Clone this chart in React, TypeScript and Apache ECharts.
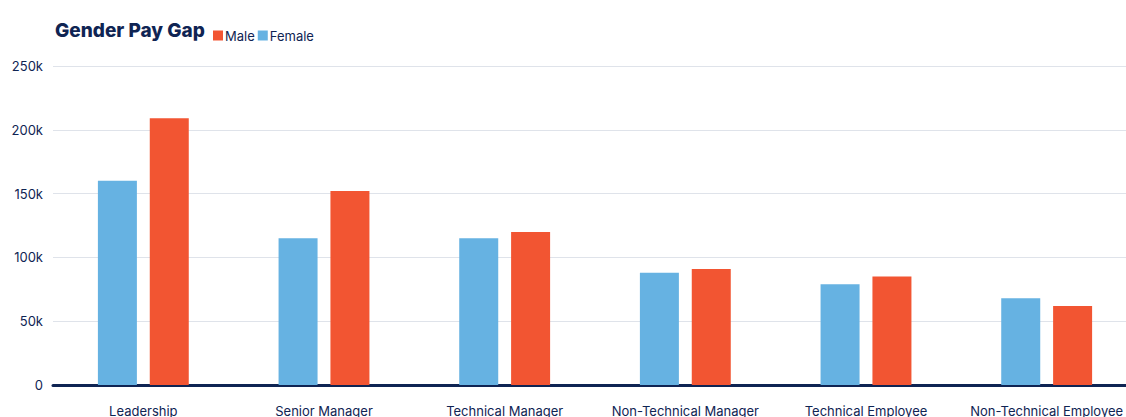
import React, { useEffect, useRef } from "react";
import * as echarts from "echarts";

const categories = [
  "Leadership",
  "Senior Manager",
  "Technical Manager",
  "Non-Technical Manager",
  "Technical Employee",
  "Non-Technical Employee",
];
const femaleValues = [160000, 115000, 115000, 88000, 79000, 68000];
const maleValues = [209000, 152000, 120000, 91000, 85000, 62000];
const yTicks = [0, 50000, 100000, 150000, 200000, 250000];

const NAVY = "#0f2453";
const BLUE = "#66b2e2";
const ORANGE = "#f25532";
const FONT = "Inter, 'Liberation Sans', sans-serif";

export default function App() {
  const ref = useRef<HTMLDivElement>(null);
  useEffect(() => {
    if (!ref.current) return;
    const chart = echarts.init(ref.current, undefined, { renderer: "svg" });
    chart.setOption({
      animation: false,
      title: {
        text: "Gender Pay Gap",
        left: 50,
        top: 16,
        textStyle: {
          fontFamily: FONT,
          fontWeight: 800,
          fontSize: 19,
          color: NAVY,
        },
      },
      legend: {
        left: 208,
        top: 24,
        data: ["Male", "Female"],
        icon: "rect",
        itemWidth: 10,
        itemHeight: 10,
        itemGap: 3,
        textStyle: { fontFamily: FONT, fontSize: 13, color: NAVY, padding: [0, 0, 0, -3] },
      },
      grid: { left: 53, right: 0, top: 66, bottom: 30, containLabel: false },
      xAxis: {
        type: "category",
        data: categories,
        axisLine: { lineStyle: { color: NAVY, width: 3 } },
        axisTick: { show: false },
        axisLabel: {
          fontFamily: FONT,
          fontSize: 13,
          color: NAVY,
          margin: 19,
          interval: 0,
        },
      },
      yAxis: {
        type: "value",
        min: 0,
        max: 250000,
        interval: 50000,
        axisLine: { show: false },
        axisTick: { show: false },
        splitLine: { lineStyle: { color: "#dfe3ea", width: 1 } },
        axisLabel: {
          fontFamily: FONT,
          fontSize: 13,
          color: NAVY,
          margin: 10,
          formatter: (v: number) =>
            yTicks.includes(v) ? (v === 0 ? "0" : v / 1000 + "k") : "",
        },
      },
      series: [
        {
          name: "Female",
          type: "bar",
          data: femaleValues,
          barWidth: 39,
          barGap: "33%",
          itemStyle: { color: BLUE },
        },
        {
          name: "Male",
          type: "bar",
          data: maleValues,
          barWidth: 39,
          barGap: "33%",
          itemStyle: { color: ORANGE },
        },
      ],
    });
    return () => chart.dispose();
  }, []);
  return (
    <div
      style={{
        position: "absolute",
        left: 0,
        top: 0,
        width: 1126,
        height: 417,
        overflow: "hidden",
      }}
    >
      <div ref={ref} style={{ width: 1137, height: 417 }} />
    </div>
  );
}
